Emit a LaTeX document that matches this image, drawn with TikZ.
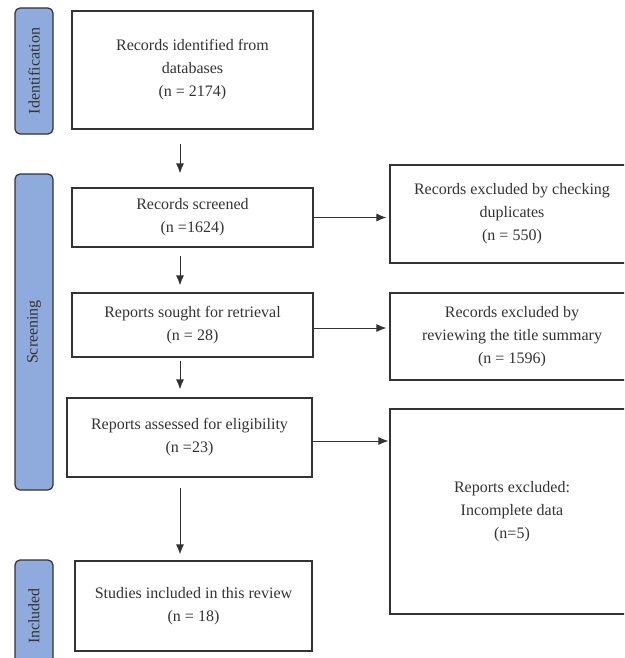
\documentclass[tikz,border=0pt]{standalone}
\usepackage{fontspec}
\setmainfont{Liberation Serif}
\usetikzlibrary{arrows.meta,calc}
\definecolor{tabblue}{HTML}{8FAADC}
\definecolor{ink}{HTML}{333333}
\begin{document}
\begin{tikzpicture}[x=1pt,y=-1pt,
  box/.style={draw=ink, line width=1.2pt, fill=white, text=ink, align=center,
    font=\fontsize{16}{23}\selectfont, inner sep=0pt},
  tab/.style={draw=ink, line width=1.2pt, fill=tabblue, rounded corners=5pt,
    text=ink, inner sep=0pt, rotate=90, font=\fontsize{16}{18}\selectfont},
  arr/.style={draw=ink, line width=1pt, -{Latex[length=10pt,width=8pt]}}]
\useasboundingbox (0,0) rectangle (624,658);
\clip (0,0) rectangle (624,658);
% phase tabs
\node[tab, minimum width=126pt, minimum height=38pt] (t1) at (34,71) {Identification};
\node[tab, minimum width=316pt, minimum height=38pt] (t2) at (34,332) {Screening};
\node[tab, minimum width=112pt, minimum height=38pt] (t3) at (34,616) {Included};
% main column
\node[box, minimum width=241pt, minimum height=118pt] (b1) at (192.5,70)
  {Records identified from\\databases\\(n = 2174)};
\node[box, minimum width=241pt, minimum height=59pt] (b2) at (192.5,217.5)
  {Records screened\\(n =1624)};
\node[box, minimum width=241pt, minimum height=64pt] (b3) at (192.5,325)
  {Reports sought for retrieval\\(n = 28)};
\node[box, minimum width=245pt, minimum height=79pt] (b4) at (189.5,437.5)
  {Reports assessed for eligibility\\(n =23)};
\node[box, minimum width=237pt, minimum height=90pt] (b5) at (193.5,606)
  {Studies included in this review\\(n = 18)};
% exclusion column
\node[box, minimum width=244pt, minimum height=98pt] (e1) at (512,214)
  {Records excluded by checking\\duplicates\\(n = 550)};
\node[box, minimum width=244pt, minimum height=87pt] (e2) at (512,336.5)
  {Records excluded by\\reviewing the title summary\\(n = 1596)};
\node[box, minimum width=244pt, minimum height=205pt] (e3) at (512,511.5)
  {Reports excluded:\\Incomplete data\\(n=5)};
% vertical arrows
\coordinate (ax) at (180,0);
\draw[arr] ([yshift=-14pt]b1.south -| ax) -- ([yshift=14pt]b2.north -| ax);
\draw[arr] ([yshift=-8pt]b2.south -| ax) -- ([yshift=7pt]b3.north -| ax);
\draw[arr] ([yshift=-3pt]b3.south -| ax) -- ([yshift=8pt]b4.north -| ax);
\draw[arr] ([yshift=-10pt]b4.south -| ax) -- ([yshift=6pt]b5.north -| ax);
% horizontal arrows
\draw[arr, shorten >=3pt] (b2.east) -- (b2.east -| e1.west);
\draw[arr, shorten >=3pt] ([yshift=-3pt]b3.east) -- ([yshift=-3pt]b3.east -| e2.west);
\draw[arr, shorten >=1pt] ([yshift=-3.5pt]b4.east) -- ([yshift=-3.5pt]b4.east -| e3.west);
\end{tikzpicture}
\end{document}
